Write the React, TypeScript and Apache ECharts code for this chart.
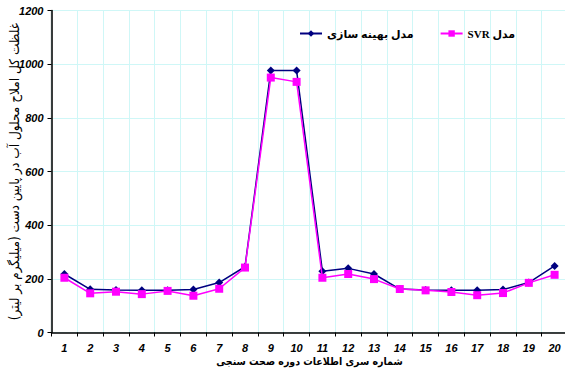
import React, { useEffect, useRef } from "react";
import * as echarts from "echarts";

const categories = ["1","2","3","4","5","6","7","8","9","10","11","12","13","14","15","16","17","18","19","20"];
const optimizedModel = [218, 161, 158, 157, 157, 160, 186, 245, 976, 976, 228, 239, 218, 162, 158, 157, 157, 160, 186, 248];
const svrModel = [204, 146, 152, 143, 155, 137, 163, 242, 950, 934, 204, 218, 199, 162, 157, 151, 139, 147, 185, 215];
const yTicks = [0, 200, 400, 600, 800, 1000, 1200];

const nameOptimized = "مدل بهینه سازی";
const nameSVR = "SVR مدل";
const yTitle = "غلظت کل املاح محلول آب در پایین دست (میلیگرم بر لیتر)";
const xTitle = "شماره سری اطلاعات دوره صحت سنجی";

export default function App() {
  const ref = useRef<HTMLDivElement>(null);
  useEffect(() => {
    if (!ref.current) return;
    const chart = echarts.init(ref.current, null, { renderer: "svg" });
    chart.setOption({
      animation: false,
      backgroundColor: "#ffffff",
      grid: {
        left: 51.5,
        top: 10.5,
        width: 516,
        height: 322,
        show: true,
        borderColor: "#444",
        borderWidth: 1.2,
        backgroundColor: "transparent",
        containLabel: false,
        outerBoundsMode: "none",
      },
      legend: {
        top: 23,
        left: 294,
        itemGap: 26,
        itemWidth: 22,
        itemHeight: 8,
        data: [nameOptimized, nameSVR],
        textStyle: {
          fontFamily: "'Liberation Serif', 'DejaVu Sans', serif",
          fontWeight: "bold",
          fontSize: 11,
          color: "#000",
        },
      },
      xAxis: {
        type: "category",
        data: categories,
        boundaryGap: true,
        name: xTitle,
        nameLocation: "middle",
        nameGap: 23,
        nameMoveOverlap: false,
        nameTextStyle: {
          fontFamily: "'DejaVu Sans Condensed', 'DejaVu Sans', sans-serif",
          fontWeight: "bold",
          fontSize: 10.5,
          color: "#000",
        },
        axisLine: { show: true, lineStyle: { color: "#000", width: 1.5 } },
        axisTick: { show: true, alignWithLabel: false, length: 4, lineStyle: { color: "#000" } },
        axisLabel: {
          margin: 10,
          fontFamily: "'Liberation Sans', Arial, sans-serif",
          fontWeight: "bold",
          fontStyle: "italic",
          fontSize: 11,
          color: "#000",
        },
        splitLine: { show: true, lineStyle: { color: "#cff7f7", width: 1 } },
      },
      yAxis: {
        type: "value",
        min: 0,
        max: 1200,
        interval: 200,
        name: yTitle,
        nameLocation: "middle",
        nameRotate: 90,
        nameGap: 31,
        nameMoveOverlap: false,
        nameTextStyle: {
          fontFamily: "'DejaVu Sans Condensed', 'DejaVu Sans', sans-serif",
          fontSize: 13.5,
          color: "#000",
        },
        axisLine: { show: true, lineStyle: { color: "#000", width: 1.5 } },
        axisTick: { show: true, length: 4, lineStyle: { color: "#000" } },
        axisLabel: {
          margin: 8,
          fontFamily: "'Liberation Sans', Arial, sans-serif",
          fontWeight: "bold",
          fontStyle: "italic",
          fontSize: 11,
          color: "#000",
          formatter: (v: number) => (yTicks.includes(v) ? String(v) : ""),
        },
        splitLine: { show: true, lineStyle: { color: "#cff7f7", width: 1 } },
      },
      series: [
        {
          name: nameOptimized,
          type: "line",
          data: optimizedModel,
          symbol: "diamond",
          symbolSize: 8,
          itemStyle: { color: "#000080" },
          lineStyle: { color: "#000080", width: 1.5 },
          z: 2,
        },
        {
          name: nameSVR,
          type: "line",
          data: svrModel,
          symbol: "rect",
          symbolSize: 8,
          itemStyle: { color: "#ff00ff" },
          lineStyle: { color: "#ff00ff", width: 1.5 },
          z: 3,
        },
      ],
    });
    return () => chart.dispose();
  }, []);
  return (
    <div
      ref={ref}
      style={{ position: "fixed", left: 0, top: 0, width: 565, height: 369 }}
    />
  );
}
